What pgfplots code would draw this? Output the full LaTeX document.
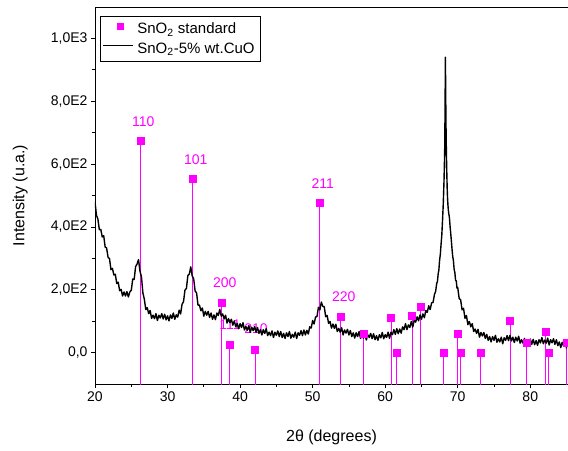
\documentclass[border=0pt]{standalone}
\usepackage{pgfplots}
\pgfplotsset{compat=1.18}
\usepackage{pgfplotstable}
\usepackage{fontspec}
\setmainfont{Liberation Sans}
\definecolor{mag}{RGB}{255,0,255}

\pgfplotstableread{
x y
26.3 674
33.4 553
37.4 160
38.5 26
42.05 8
51.0 476
53.9 115
57.0 60
60.8 110
61.55 0
63.7 116
64.85 146
68.05 0
70.0 60
70.4 0
73.2 0
77.2 101
79.5 32
82.1 68
82.5 0
85.0 32
}\sticks

\pgfplotstableread{
x y
20.0 480
20.2 437
20.4 425
20.6 391
20.8 392
21.0 368
21.2 372
21.4 336
21.6 333
21.8 303
22.0 299
22.2 264
22.4 268
22.6 247
22.8 249
23.0 220
23.2 224
23.4 197
23.6 201
23.8 180
24.0 193
24.2 180
24.4 194
24.6 177
24.8 193
25.0 198
25.2 234
25.4 233
25.6 274
25.8 282
26.0 296
26.2 259
26.4 242
26.6 190
26.8 170
27.0 137
27.2 143
27.4 124
27.6 134
27.8 109
28.0 119
28.2 108
28.4 124
28.6 102
28.8 119
29.0 110
29.2 124
29.4 107
29.6 122
29.8 104
30.0 117
30.2 101
30.4 120
30.6 109
30.8 126
31.0 106
31.2 120
31.4 113
31.6 135
31.8 123
32.0 154
32.2 162
32.4 199
32.6 204
32.8 245
33.0 250
33.2 273
33.4 244
33.6 235
33.8 196
34.0 190
34.2 151
34.4 151
34.6 133
34.8 142
35.0 116
35.2 131
35.4 119
35.6 131
35.8 112
36.0 126
36.2 106
36.4 120
36.6 105
36.8 126
37.0 118
37.2 138
37.4 116
37.6 123
37.8 107
38.0 119
38.2 94
38.4 108
38.6 95
38.8 106
39.0 87
39.2 101
39.4 82
39.6 93
39.8 76
40.0 92
40.2 80
40.4 95
40.6 72
40.8 83
41.0 71
41.2 86
41.4 64
41.6 81
41.8 70
42.0 83
42.2 65
42.4 80
42.6 61
42.8 73
43.0 56
43.2 73
43.4 61
43.6 76
43.8 54
44.0 65
44.2 54
44.4 69
44.6 48
44.8 65
45.0 55
45.2 69
45.4 51
45.6 67
45.8 48
46.0 61
46.2 45
46.4 63
46.6 51
46.8 67
47.0 46
47.2 58
47.4 49
47.6 65
47.8 45
48.0 63
48.2 55
48.4 70
48.6 54
48.8 72
49.0 56
49.2 71
49.4 59
49.6 82
49.8 78
50.0 102
50.2 91
50.4 113
50.6 115
50.8 144
51.0 136
51.2 161
51.4 147
51.6 146
51.8 114
52.0 118
52.2 93
52.4 99
52.6 78
52.8 91
53.0 77
53.2 90
53.4 67
53.6 77
53.8 65
54.0 79
54.2 56
54.4 72
54.6 62
54.8 74
55.0 56
55.2 70
55.4 51
55.6 63
55.8 46
56.0 63
56.2 51
56.4 67
56.6 45
56.8 57
57.0 46
57.2 61
57.4 40
57.6 57
57.8 48
58.0 61
58.2 44
58.4 60
58.6 41
58.8 54
59.0 39
59.2 57
59.4 47
59.6 64
59.8 44
60.0 57
60.2 48
60.4 65
60.6 45
60.8 65
61.0 57
61.2 73
61.4 58
61.6 76
61.8 60
62.0 75
62.2 62
62.4 82
62.6 73
62.8 92
63.0 73
63.2 88
63.4 80
63.6 99
63.8 81
64.0 103
64.2 97
64.4 114
64.6 101
64.8 120
65.0 106
65.2 123
65.4 111
65.6 134
65.8 128
66.0 149
66.2 137
66.4 158
66.6 160
66.8 186
66.95 194
67.1 220
67.2 226
67.3 250
67.4 263
67.5 294
67.6 312
67.7 344
67.8 372
67.9 418
68.0 470
68.1 540
68.15 585
68.2 640
68.25 760
68.3 940
68.35 800
68.4 690
68.45 620
68.5 565
68.55 520
68.6 490
68.65 470
68.7 455
68.75 445
68.8 438
68.85 430
68.9 416
68.95 400
69.0 388
69.05 375
69.1 362
69.2 333
69.3 307
69.4 294
69.5 266
69.6 255
69.7 231
69.8 228
69.9 205
70.0 207
70.2 172
70.4 168
70.6 136
70.8 141
71.0 109
71.2 118
71.4 89
71.6 99
71.8 82
72.0 92
72.2 67
72.4 75
72.6 61
72.8 74
73.0 49
73.2 64
73.4 53
73.6 64
73.8 45
74.0 58
74.2 39
74.4 51
74.6 34
74.8 51
75.0 39
75.2 55
75.4 33
75.6 44
75.8 34
76.0 49
76.2 28
76.4 47
76.6 39
76.8 54
77.0 38
77.2 55
77.4 37
77.6 49
77.8 32
78.0 49
78.2 37
78.4 52
78.6 30
78.8 41
79.0 30
79.2 45
79.4 23
79.6 40
79.8 30
80.0 43
80.2 26
80.4 42
80.6 25
80.8 38
81.0 23
81.2 41
81.4 31
81.6 48
81.8 28
82.0 40
82.2 30
82.4 46
82.6 24
82.8 41
83.0 31
83.2 44
83.4 26
83.6 41
83.8 22
84.0 34
84.2 16
84.4 33
84.6 21
84.8 35
85.0 13
}\xrd

\begin{document}
\begin{tikzpicture}
\begin{axis}[
  scale only axis,
  width=473bp, height=377bp,
  xmin=20, xmax=85.2,
  ymin=-100, ymax=1100,
  xtick={20,30,40,50,60,70,80},
  minor x tick num=1,
  ytick={0,200,400,600,800,1000},
  yticklabels={0{,}0,2{,}0E2,4{,}0E2,6{,}0E2,8{,}0E2,1{,}0E3},
  minor y tick num=1,
  tick align=outside,
  major tick length=4bp,
  minor tick length=2.5bp,
  axis line style={line width=0.9bp},
  every tick/.style={black, line width=0.8bp},
  xtick pos=bottom, ytick pos=left,
  /pgf/number format/assume math mode=true,
  ticklabel style={font=\fontsize{14bp}{16bp}\selectfont},
  xlabel={2θ (degrees)},
  ylabel={Intensity (u.a.)},
  every axis x label/.style={at={(axis description cs:0.5,-0.141)}, anchor=center, font=\fontsize{16bp}{18bp}\selectfont},
  every axis y label/.style={at={(axis description cs:-0.158,0.5)}, rotate=90, anchor=center, font=\fontsize{16bp}{18bp}\selectfont},
  legend style={at={(axis description cs:0.011,0.977)}, anchor=north west,
    draw=black, line width=0.8bp, font=\fontsize{15bp}{17bp}\selectfont,
    inner xsep=2bp, inner ysep=5bp, row sep=3.5bp, cells={anchor=west},
    nodes={inner xsep=4bp}},
  clip=true,
]
\addplot[mag, only marks, mark=square*, mark size=3.5bp,
  legend image code/.code={\node[fill=mag, minimum size=7bp, inner sep=0pt] at (14bp,0) {};},
  error bars/.cd, y dir=minus, y explicit, error mark=none,
  error bar style={mag, line width=0.9bp}]
  table[x=x, y=y, y error expr=\thisrow{y}+110] {\sticks};
\addlegendentry{SnO\textsubscript{2} standard}
\node[mag, font=\fontsize{14bp}{16bp}\selectfont] at (axis cs:26.66,735) {110};
\node[mag, font=\fontsize{14bp}{16bp}\selectfont] at (axis cs:33.9,613) {101};
\node[mag, font=\fontsize{14bp}{16bp}\selectfont] at (axis cs:37.9,224) {200};
\node[mag, font=\fontsize{14bp}{16bp}\selectfont] at (axis cs:38.6,90) {111};
\node[mag, font=\fontsize{14bp}{16bp}\selectfont] at (axis cs:42.2,77) {210};
\node[mag, font=\fontsize{14bp}{16bp}\selectfont] at (axis cs:51.4,537) {211};
\node[mag, font=\fontsize{14bp}{16bp}\selectfont] at (axis cs:54.3,179) {220};
\addplot[black, line width=1.4bp, line join=round, no marks,
  legend image code/.code={\draw[black, line width=0.8bp] (0bp,0) -- (30bp,0);}]
  table[x=x, y=y] {\xrd};
\addlegendentry{SnO\textsubscript{2}-5\% wt.CuO}
\end{axis}
\pgfresetboundingbox
\path ([shift={(-95bp,-67bp)}]current axis.south west) rectangle ([shift={(0bp,7bp)}]current axis.north east);
\end{tikzpicture}
\end{document}
